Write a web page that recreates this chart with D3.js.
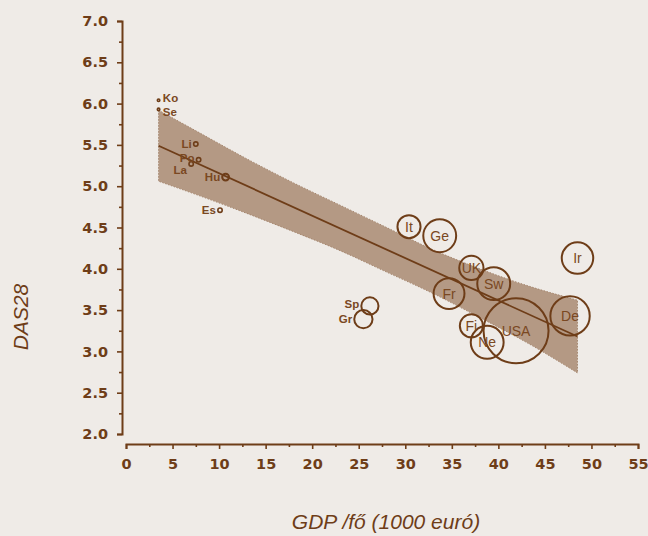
<!DOCTYPE html>
<html>
<head>
<meta charset="utf-8">
<script src="https://cdn.jsdelivr.net/npm/d3@7"></script>
<style>
  html, body { margin: 0; padding: 0; background: #efebe7; }
  svg { display: block; }
</style>
</head>
<body>
<svg id="chart" width="648" height="536"></svg>
<script>
// Country codes, GDP per capita (1000 EUR), mean DAS28, bubble weight
const countries = ["Ko","Se","Li","Po","La","Hu","Es","It","Ge","UK","Sw","Fr","Ir","De","Fi","Ne","USA","Sp","Gr"];
const gdp      = [3.5, 3.5, 7.5, 7.8, 7.0, 10.7, 10.1, 30.4, 33.7, 37.1, 39.5, 34.7, 48.5, 47.7, 37.1, 38.8, 41.9, 26.2, 25.5];
const das28    = [6.04, 5.93, 5.51, 5.32, 5.27, 5.11, 4.71, 4.51, 4.40, 4.01, 3.82, 3.70, 4.13, 3.43, 3.31, 3.11, 3.25, 3.55, 3.39];
const weight   = [0.15, 0.15, 0.45, 0.45, 0.45, 1.1, 0.45, 12.6, 25.6, 13.9, 25.6, 22.6, 23.5, 36.7, 12.6, 25.6, 100, 7.0, 7.9];

// Fitted regression line and its confidence band
const fitX = [3.5, 48.5];
const fitY = [5.49, 3.18];
const bandX    = [3.5, 8, 13, 18, 23, 28, 33, 38, 43, 48.5];
const bandLow  = [5.06, 4.88, 4.67, 4.45, 4.22, 3.96, 3.70, 3.41, 3.11, 2.74];
const bandHigh = [5.92, 5.64, 5.33, 5.04, 4.77, 4.50, 4.23, 4.00, 3.80, 3.62];

// Axis ticks and titles
const xTicks = d3.range(0, 55.01, 2.5);
const yTicks = d3.range(2, 7.001, 0.25);
const xTitle = "GDP /fő (1000 euró)";
const yTitle = "DAS28";

const brown = "#6e3d18";
const labelBrown = "#7a4822";
const bandFill = "#b49984";

const svg = d3.select("#chart");

const x = d3.scaleLinear().domain([0, 55]).range([126, 638]);
const y = d3.scaleLinear().domain([2, 7]).range([434, 21]);
const r = d3.scaleSqrt().domain([0, 100]).range([0, 32.5]);

const isMajorX = d => Math.abs(d % 5) < 1e-9;
const isMajorY = d => Math.abs((d * 2) % 1) < 1e-9;

// X axis (offset below the plot)
const xAxis = svg.append("g")
  .attr("transform", "translate(0,444)")
  .call(d3.axisBottom(x)
    .tickValues(xTicks)
    .tickSizeOuter(0)
    .tickSize(5)
    .tickPadding(10)
    .tickFormat(d => (isMajorX(d) ? d3.format("d")(d) : "")));
xAxis.selectAll(".tick line").attr("y2", d => (isMajorX(d) ? 5 : 3));

// Y axis (offset left of the plot)
const yAxis = svg.append("g")
  .attr("transform", "translate(122,0)")
  .call(d3.axisLeft(y)
    .tickValues(yTicks)
    .tickSizeOuter(0)
    .tickSize(5)
    .tickPadding(9)
    .tickFormat(d => (isMajorY(d) ? d3.format(".1f")(d) : "")));
yAxis.selectAll(".tick line").attr("x2", d => (isMajorY(d) ? -5 : -3));

[xAxis, yAxis].forEach(g => {
  g.select(".domain").attr("stroke", brown).attr("stroke-width", 2);
  g.selectAll(".tick line").attr("stroke", brown).attr("stroke-width", 1.6);
  g.selectAll(".tick text")
    .attr("fill", brown)
    .style("font-family", "'DejaVu Sans', sans-serif")
    .style("font-weight", "bold")
    .style("font-size", "14.5px");
});

// Confidence band
const bandData = bandX.map((v, i) => ({ x: v, lo: bandLow[i], hi: bandHigh[i] }));
svg.append("path")
  .datum(bandData)
  .attr("fill", bandFill)
  .attr("stroke", "#a6876f")
  .attr("stroke-width", 1)
  .attr("stroke-dasharray", "1.5,1.5")
  .attr("d", d3.area()
    .x(d => x(d.x))
    .y0(d => y(d.lo))
    .y1(d => y(d.hi))
    .curve(d3.curveMonotoneX));

// Regression line
svg.append("path")
  .datum(fitX.map((v, i) => [v, fitY[i]]))
  .attr("fill", "none")
  .attr("stroke", brown)
  .attr("stroke-width", 1.8)
  .attr("d", d3.line().x(d => x(d[0])).y(d => y(d[1])));

// Bubbles
const points = countries.map((c, i) => ({ name: c, gdp: gdp[i], das: das28[i], w: weight[i] }));

svg.append("g")
  .selectAll("circle")
  .data(points)
  .join("circle")
  .attr("cx", d => x(d.gdp))
  .attr("cy", d => y(d.das))
  .attr("r", d => Math.max(r(d.w), 1.2))
  .attr("fill", "none")
  .attr("stroke", brown)
  .attr("stroke-width", d => (r(d.w) < 3 ? 1.6 : 2));

// Labels: small markers are labelled beside the point, large bubbles inside
const beside = { Ko: "right", Se: "right", Li: "left", Po: "left", La: "left", Hu: "left", Es: "left", Sp: "left", Gr: "left" };
const extraDy = { Ko: -2, Se: 2, Po: -2, La: 6, Sp: -2 };

svg.append("g")
  .selectAll("text")
  .data(points)
  .join("text")
  .attr("x", d => {
    const side = beside[d.name];
    const rad = Math.max(r(d.w), 1.2);
    if (side === "right") return x(d.gdp) + rad + 3;
    if (side === "left") return x(d.gdp) - rad - 2;
    return x(d.gdp);
  })
  .attr("y", d => y(d.das) + (extraDy[d.name] || 0))
  .attr("dy", "0.36em")
  .attr("text-anchor", d => beside[d.name] === "right" ? "start" : beside[d.name] === "left" ? "end" : "middle")
  .attr("fill", labelBrown)
  .style("font-family", "'Liberation Sans', Arial, sans-serif")
  .style("font-size", d => beside[d.name] ? "11.5px" : "14px")
  .style("font-weight", d => beside[d.name] ? "bold" : "normal")
  .text(d => d.name);

// Axis titles
svg.append("text")
  .attr("x", 386)
  .attr("y", 529)
  .attr("text-anchor", "middle")
  .attr("fill", brown)
  .style("font-family", "'Liberation Sans', Arial, sans-serif")
  .style("font-style", "italic")
  .style("font-size", "21px")
  .text(xTitle);

svg.append("text")
  .attr("transform", "translate(28,317) rotate(-90)")
  .attr("text-anchor", "middle")
  .attr("fill", brown)
  .style("font-family", "'Liberation Sans', Arial, sans-serif")
  .style("font-style", "italic")
  .style("font-size", "21px")
  .text(yTitle);
</script>
</body>
</html>
